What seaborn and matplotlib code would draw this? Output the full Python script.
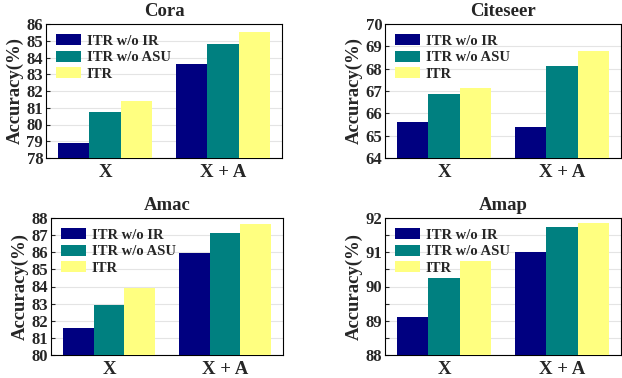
import numpy as np
import pandas as pd
import seaborn as sns
import matplotlib.pyplot as plt
from matplotlib.ticker import MultipleLocator

# data
settings = ['X', 'X + A']
methods = ['ITR w/o IR', 'ITR w/o ASU', 'ITR']
colors = ['#000080', '#008080', '#FFFF80']

datasets = ['Cora', 'Citeseer', 'Amac', 'Amap']
cora = [[78.9, 83.6], [80.75, 84.8], [81.4, 85.55]]
citeseer = [[65.6, 65.4], [66.85, 68.1], [67.15, 68.8]]
amac = [[81.6, 85.95], [82.9, 87.1], [83.9, 87.65]]
amap = [[89.1, 91.02], [90.25, 91.75], [90.75, 91.85]]
ylims = [(78, 86), (64, 70), (80, 88), (88, 92)]
grid_steps = [1, 1, 1, 0.5]

sns.set_style('white')
plt.rcParams['font.family'] = ['Liberation Serif', 'DejaVu Serif']
plt.rcParams['font.weight'] = 'bold'

fig = plt.figure(figsize=(6.22, 3.78), dpi=100)
boxes = [(46, 24, 282, 158), (385, 24, 621, 158),
         (51, 218, 283, 355), (385, 218, 621, 355)]
W, H = 622, 378

for name, vals, ylim, gstep, (x0, y0, x1, y1) in zip(
        datasets, [cora, citeseer, amac, amap], ylims, grid_steps, boxes):
    ax = fig.add_axes([x0 / W, 1 - y1 / H, (x1 - x0) / W, (y1 - y0) / H])
    rows = []
    for m, v in zip(methods, vals):
        for s, a in zip(settings, v):
            rows.append({'setting': s, 'method': m, 'acc': a})
    df = pd.DataFrame(rows)
    sns.barplot(data=df, x='setting', y='acc', hue='method', palette=colors,
                hue_order=methods, order=settings, width=0.8, saturation=1,
                ax=ax, zorder=3, linewidth=0)
    ax.set_ylim(*ylim)
    ax.set_xlim(-0.5, 1.5)
    ax.yaxis.set_major_locator(MultipleLocator(1))
    ax.yaxis.set_minor_locator(MultipleLocator(gstep))
    ax.grid(axis='y', which='both', color='#e4e4e4', linewidth=0.8, zorder=0)
    ax.set_axisbelow(True)
    ax.tick_params(axis='y', which='both', direction='in', length=3, width=0.8,
                   labelsize=12, pad=2, left=True)
    ax.tick_params(axis='x', length=0, labelsize=13.5, pad=4)
    for lab in ax.get_xticklabels() + ax.get_yticklabels():
        lab.set_fontweight('bold')
    ax.set_xlabel('')
    ax.set_ylabel('Accuracy(%)', fontsize=13.5, fontweight='bold', labelpad=2)
    ax.set_title(name, fontsize=13.5, fontweight='bold', pad=6)
    for sp in ax.spines.values():
        sp.set_linewidth(0.8)
        sp.set_color('black')
    ax.legend(loc='upper left', frameon=False,
              prop={'weight': 'bold', 'size': 10.5},
              handlelength=1.7, handleheight=0.8, labelspacing=0.2,
              handletextpad=0.4, borderaxespad=0.3)

fig.savefig('out.png', dpi=100)
